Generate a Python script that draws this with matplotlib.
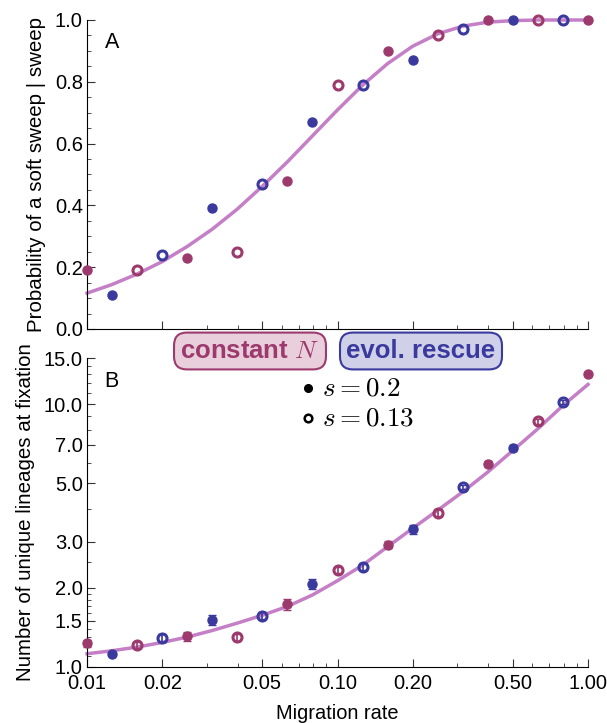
import numpy as np
import matplotlib
matplotlib.use("Agg")
import matplotlib.pyplot as plt
from matplotlib.ticker import FixedLocator, FixedFormatter, NullFormatter

plt.rcParams['font.family'] = ['Liberation Sans', 'DejaVu Sans']
plt.rcParams['mathtext.fontset'] = 'cm'

# migration rates (0.1-decade steps from 0.01 to 1)
migration = [0.01, 0.01259, 0.01585, 0.01995, 0.02512, 0.03162, 0.03981, 0.05012,
             0.0631, 0.07943, 0.1, 0.1259, 0.1585, 0.1995, 0.2512, 0.3162,
             0.3981, 0.5012, 0.631, 0.7943, 1.0]
# scenario of each point: 'c' = constant N, 'r' = evol. rescue
scenario = ['c', 'r', 'c', 'r'] * 5 + ['c']
# selection: 0.2 (filled) or 0.13 (open)
selection = [0.2, 0.2, 0.13, 0.13] * 5 + [0.2]

p_soft = [0.19, 0.11, 0.19, 0.24, 0.23, 0.39, 0.25, 0.47, 0.48, 0.67, 0.79,
          0.79, 0.90, 0.87, 0.95, 0.97, 1.0, 1.0, 1.0, 1.0, 1.0]
p_soft_theory = [0.116, 0.144, 0.178, 0.218, 0.267, 0.323, 0.388, 0.462, 0.541,
                 0.625, 0.709, 0.789, 0.859, 0.915, 0.955, 0.980, 0.993, 0.998,
                 1.0, 1.0, 1.0]

lineages = [1.23, 1.12, 1.21, 1.29, 1.31, 1.51, 1.30, 1.57, 1.73, 2.07, 2.34,
            2.41, 2.92, 3.34, 3.86, 4.84, 5.94, 6.83, 8.62, 10.2, 13.0]
lineages_err = [0.04, 0.02, 0.03, 0.04, 0.05, 0.07, 0.04, 0.05, 0.08, 0.09, 0.07,
                0.07, 0.09, 0.13, 0.12, 0.10, 0.12, 0.15, 0.18, 0.2, 0.2]
lineages_theory = [1.123, 1.153, 1.191, 1.240, 1.300, 1.377, 1.469, 1.574, 1.70,
                   1.88, 2.13, 2.44, 2.87, 3.37, 3.95, 4.64, 5.52, 6.67, 8.07,
                   9.89, 11.9]

x_major = [0.01, 0.02, 0.05, 0.1, 0.2, 0.5, 1.0]
x_major_labels = ['0.01', '0.02', '0.05', '0.10', '0.20', '0.50', '1.00']
x_minor = [0.03, 0.04, 0.06, 0.07, 0.08, 0.09, 0.3, 0.4, 0.6, 0.7, 0.8, 0.9]
yA_major = [0.0, 0.2, 0.4, 0.6, 0.8, 1.0]
yB_major = [1.0, 1.5, 2.0, 3.0, 5.0, 7.0, 10.0, 15.0]
yB_minor = [1.1, 1.2, 1.3, 1.4, 1.6, 1.7, 1.8, 1.9, 2.5, 4.0, 6.0, 8.0, 9.0,
            11.0, 12.0, 13.0, 14.0]

MAG = '#9c3a6e'
BLU = '#3a3a9e'
CURVE = '#c47fc6'
colors = {'c': MAG, 'r': BLU}

fig = plt.figure(figsize=(6.07, 7.23), dpi=100)
axA = fig.add_axes([87/607, 1-329/723, 501/607, 309/723])
axB = fig.add_axes([87/607, 1-667/723, 501/607, 309/723])

for ax in (axA, axB):
    ax.set_xscale('log')
    ax.set_xlim(0.01, 1.0)
    ax.spines['top'].set_visible(False)
    ax.spines['right'].set_visible(False)
    ax.xaxis.set_major_locator(FixedLocator(x_major))
    ax.xaxis.set_minor_locator(FixedLocator(x_minor))
    ax.xaxis.set_minor_formatter(NullFormatter())
    ax.tick_params(which='both', direction='in', labelsize=14.5, color='#333333', pad=3)
    ax.tick_params(which='major', length=6)
    ax.tick_params(which='minor', length=3)

axA.xaxis.set_major_formatter(NullFormatter())
axB.xaxis.set_major_formatter(FixedFormatter(x_major_labels))
axB.tick_params(axis='x', pad=5)

# Panel A
axA.plot(migration, p_soft_theory, color=CURVE, lw=2.5, zorder=2, clip_on=False,
         solid_joinstyle='round')
for m, v, sc, s in zip(migration, p_soft, scenario, selection):
    c = colors[sc]
    if s == 0.2:
        axA.plot(m, v, 'o', ms=6.5, mfc=c, mec=c, zorder=3, clip_on=False)
    else:
        axA.plot(m, v, 'o', ms=6.5, mfc='none', mec=c, mew=2.2, zorder=3, clip_on=False)
axA.set_ylim(0, 1.0)
axA.yaxis.set_major_locator(FixedLocator(yA_major))
axA.yaxis.set_minor_locator(FixedLocator(np.arange(0.05, 1.0, 0.05).tolist()))
axA.set_yticklabels([f'{v:.1f}' for v in yA_major])
axA.set_ylabel('Probability of a soft sweep | sweep', fontsize=14.8, labelpad=6)
axA.text(0.035, 0.91, 'A', transform=axA.transAxes, fontsize=15.5)

# Panel B
axB.set_yscale('log')
axB.plot(migration, lineages_theory, color=CURVE, lw=2.5, zorder=2, clip_on=False,
         solid_joinstyle='round')
for m, v, e, sc, s in zip(migration, lineages, lineages_err, scenario, selection):
    c = colors[sc]
    axB.errorbar(m, v, yerr=e, fmt='none', ecolor=c, elinewidth=1.2, capsize=3,
                 capthick=1.0, zorder=3, clip_on=False)
    if s == 0.2:
        axB.plot(m, v, 'o', ms=6.5, mfc=c, mec=c, zorder=4, clip_on=False)
    else:
        axB.plot(m, v, 'o', ms=6.5, mfc='none', mec=c, mew=2.2, zorder=4, clip_on=False)
axB.set_ylim(1.0, 15.0)
axB.yaxis.set_major_locator(FixedLocator(yB_major))
axB.yaxis.set_minor_locator(FixedLocator(yB_minor))
axB.yaxis.set_major_formatter(FixedFormatter([f'{v:.1f}' for v in yB_major]))
axB.yaxis.set_minor_formatter(NullFormatter())
axB.set_ylabel('Number of unique lineages at fixation', fontsize=14.8, labelpad=6)
axB.set_xlabel('Migration rate', fontsize=14.4, labelpad=8)
axB.text(0.035, 0.905, 'B', transform=axB.transAxes, fontsize=15.5)

# Legend boxes
fig.text(250/607, 1-351/723, r'constant $N$', ha='center', va='center',
         fontsize=18.5, fontweight='bold', color=MAG,
         bbox=dict(boxstyle='round,pad=0.25,rounding_size=0.5', fc='#e9cfdc', ec=MAG, lw=1.5))
fig.text(421/607, 1-351/723, 'evol. rescue', ha='center', va='center',
         fontsize=18.5, fontweight='bold', color=BLU,
         bbox=dict(boxstyle='round,pad=0.25,rounding_size=0.5', fc='#d0d1e9', ec=BLU, lw=1.5))
fig.lines.append(plt.Line2D([308/607], [1-388/723], marker='o', ms=5.5, mfc='black',
                            mec='black', transform=fig.transFigure))
fig.lines.append(plt.Line2D([308/607], [1-418/723], marker='o', ms=5.5, mfc='none',
                            mec='black', mew=1.8, transform=fig.transFigure))
fig.text(322/607, 1-388/723, r'$s=0.2$', ha='left', va='center', fontsize=19.5)
fig.text(322/607, 1-418/723, r'$s=0.13$', ha='left', va='center', fontsize=19.5)

fig.savefig('out.png', dpi=100)
